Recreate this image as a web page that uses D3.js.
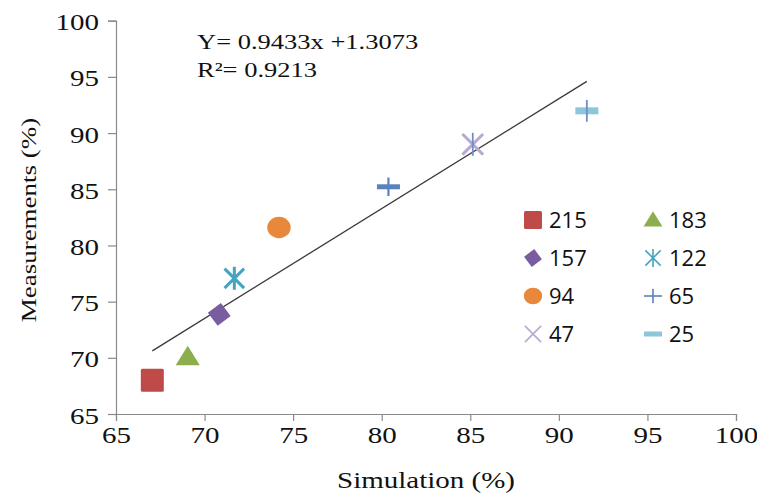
<!DOCTYPE html>
<html>
<head>
<meta charset="utf-8">
<script src="https://cdn.jsdelivr.net/npm/d3@7"></script>
<style>
  html, body { margin: 0; padding: 0; background: #fff; }
  svg { display: block; }
</style>
</head>
<body>
<svg id="chart" width="757" height="496"></svg>
<script>
// Series labels, values and marker styles
const seriesNames = ["215", "183", "157", "122", "94", "65", "47", "25"];
const simulation  = [67.05, 69.05, 70.83, 71.68, 74.2, 80.38, 85.14, 91.58];
const measurement = [68.0, 70.07, 73.87, 77.07, 81.6, 85.22, 89.0, 91.98];
const markerKinds = ["square", "triangle", "diamond", "asterisk", "circle", "plus", "cross", "dash"];
const markerColors = ["#BE4B48", "#8EAE4E", "#7A5CA0", "#46A4C0", "#E8883A", "#5A82BE", "#B8A8D2", "#8CC6DA"];
const xTicks = [65, 70, 75, 80, 85, 90, 95, 100];
const yTicks = [65, 70, 75, 80, 85, 90, 95, 100];
const equationLines = ["Y= 0.9433x +1.3073", "R\u00B2= 0.9213"];

const svg = d3.select("#chart");
const x = d3.scaleLinear().domain([65, 100]).range([116, 736]);
const y = d3.scaleLinear().domain([65, 100]).range([414, 20.7]);

const axisColor = "#8a8a8a";
const serif = "'Liberation Serif', 'Times New Roman', serif";
const sans = "'Open Sans', 'Liberation Sans', sans-serif";
const squash = 0.8; // serif captions are set slightly condensed vertically

// Axes
const xAxis = svg.append("g").attr("transform", `translate(0,${y(65)})`)
  .call(d3.axisBottom(x).tickValues(xTicks).tickSize(7).tickFormat(d3.format("d")));
const yAxis = svg.append("g").attr("transform", `translate(${x(65)},0)`)
  .call(d3.axisLeft(y).tickValues(yTicks).tickSize(8).tickFormat(d3.format("d")));
[xAxis, yAxis].forEach(g => {
  g.select(".domain").attr("stroke", axisColor).attr("stroke-width", 1.2);
  g.selectAll(".tick line").attr("stroke", axisColor).attr("stroke-width", 1.2);
  g.selectAll(".tick text").attr("fill", "#111").style("font-family", serif).style("font-size", "29px")
    .attr("x", 0).attr("y", 0).attr("dy", null);
});
xAxis.selectAll(".tick text").attr("text-anchor", "middle")
  .attr("transform", `translate(0,29) scale(1,${squash})`);
yAxis.selectAll(".tick text").attr("text-anchor", "end")
  .attr("transform", `translate(-17,9) scale(1,${squash})`);

// Axis titles
svg.append("text").attr("transform", `translate(${x(82.5)},488) scale(1,${squash})`).attr("text-anchor", "middle")
  .style("font-family", serif).style("font-size", "29px").attr("fill", "#111")
  .text("Simulation (%)");
svg.append("text").attr("transform", `translate(36,220) rotate(-90) scale(1,${squash})`).attr("text-anchor", "middle")
  .style("font-family", serif).style("font-size", "27px").attr("fill", "#111")
  .text("Measurements (%)");

// Least-squares trend line over the data range
const n = simulation.length;
const mx = d3.mean(simulation), my = d3.mean(measurement);
let sxy = 0, sxx = 0;
for (let i = 0; i < n; i++) {
  sxy += (simulation[i] - mx) * (measurement[i] - my);
  sxx += (simulation[i] - mx) ** 2;
}
const slope = sxy / sxx, intercept = my - slope * mx;
const [x0, x1] = d3.extent(simulation);
svg.append("line")
  .attr("x1", x(x0)).attr("y1", y(slope * x0 + intercept))
  .attr("x2", x(x1)).attr("y2", y(slope * x1 + intercept))
  .attr("stroke", "#3a3a3a").attr("stroke-width", 1.3);

// Regression equation
svg.append("g").selectAll("text").data(equationLines).join("text")
  .attr("transform", (d, i) => `translate(197,${49 + i * 28}) scale(1,${squash})`)
  .style("font-family", serif).style("font-size", "26.5px").attr("fill", "#111")
  .text(d => d);

// Marker drawing
function drawMarker(g, kind, color, s, thin) {
  const h = s / 2;
  const sw = thin ? 1.6 : 3;
  switch (kind) {
    case "square":
      g.append("rect").attr("x", -h).attr("y", -h).attr("width", s).attr("height", s)
        .attr("rx", 1.5).attr("fill", color);
      break;
    case "triangle": {
      const th = s * 0.85;
      g.append("path").attr("d", `M0,${-th * 0.58}L${h * 1.05},${th * 0.42}L${-h * 1.05},${th * 0.42}Z`).attr("fill", color);
      break;
    }
    case "diamond": {
      const d = h * 1.0;
      g.append("path").attr("d", `M0,${-d}L${d},0L0,${d}L${-d},0Z`).attr("fill", color)
        .attr("transform", "rotate(8)");
      break;
    }
    case "circle":
      g.append("ellipse").attr("rx", h * 1.02).attr("ry", h * 0.93).attr("fill", color);
      break;
    case "asterisk": {
      const a = h * 0.85;
      g.append("path").attr("d", `M${-a},${-a}L${a},${a}M${a},${-a}L${-a},${a}M0,${-h}L0,${h}`)
        .attr("stroke", color).attr("stroke-width", sw).attr("fill", "none");
      break;
    }
    case "plus":
      g.append("path").attr("d", `M${-h},0L${h},0`).attr("stroke", color)
        .attr("stroke-width", thin ? 1.6 : 5).attr("fill", "none");
      g.append("path").attr("d", `M0,${-h * 0.8}L0,${h * 0.8}`).attr("stroke", color)
        .attr("stroke-width", thin ? 1.6 : 2.2).attr("fill", "none");
      break;
    case "cross": {
      const a = h * 0.9;
      g.append("path").attr("d", `M${-a},${-a}L${a},${a}M${a},${-a}L${-a},${a}`)
        .attr("stroke", color).attr("stroke-width", sw).attr("fill", "none");
      if (!thin) {
        g.append("path").attr("d", `M0,${-h}L0,${h}`).attr("stroke", "#6E8FC4")
          .attr("stroke-width", 1.8).attr("fill", "none");
      }
      break;
    }
    case "dash":
      g.append("rect").attr("x", -h).attr("y", thin ? -2.5 : -3.5).attr("width", s)
        .attr("height", thin ? 5 : 7).attr("fill", color);
      if (!thin) {
        g.append("path").attr("d", `M0,${-h * 0.95}L0,${h * 0.95}`).attr("stroke", "#6E8FC4")
          .attr("stroke-width", 1.8).attr("fill", "none");
      }
      break;
  }
}

// Data points
const points = svg.append("g");
seriesNames.forEach((name, i) => {
  const g = points.append("g").attr("transform", `translate(${x(simulation[i])},${y(measurement[i])})`);
  drawMarker(g, markerKinds[i], markerColors[i], 23, false);
});

// Legend (two columns, four rows)
const legend = svg.append("g");
seriesNames.forEach((name, i) => {
  const col = i % 2, row = Math.floor(i / 2);
  const cx = 533 + col * 120, cy = 220 + row * 38;
  const g = legend.append("g").attr("transform", `translate(${cx},${cy})`);
  drawMarker(g, markerKinds[i], markerColors[i], 18, true);
  legend.append("text").attr("x", cx + 16).attr("y", cy).attr("dy", "0.36em")
    .style("font-family", sans).style("font-size", "22px").attr("fill", "#111")
    .text(name);
});
</script>
</body>
</html>
